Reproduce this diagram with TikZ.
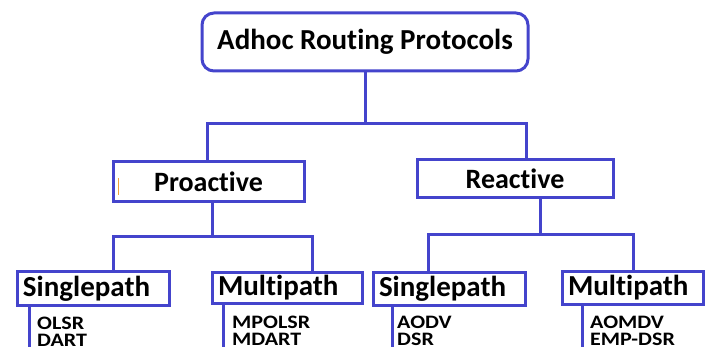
\documentclass[tikz,border=0pt]{standalone}
\usepackage{fontspec}
\setmainfont{Carlito}[Ligatures=NoCommon]
\newfontfamily\listfont{Carlito}[Ligatures=NoCommon,FakeStretch=1.16]
\definecolor{lineblue}{RGB}{68,68,204}
\definecolor{tickorange}{RGB}{240,160,60}
\begin{document}
\begin{tikzpicture}[x=1pt,y=-1pt,
  conn/.style={draw=lineblue,line width=3pt},
  topbox/.style={draw=lineblue,line width=3pt,rounded corners=12pt,minimum width=326pt,minimum height=58pt,inner sep=0pt,font=\fontsize{29}{31}\selectfont\bfseries},
  midbox/.style={draw=lineblue,line width=3pt,inner sep=0pt,font=\fontsize{28}{30}\selectfont\bfseries},
  leafbox/.style={draw=lineblue,line width=3pt,inner xsep=6pt,inner ysep=0pt,align=left,font=\fontsize{29}{31}\selectfont\bfseries},
  listtxt/.style={anchor=base west,inner sep=0pt,font=\listfont\fontsize{19}{17}\selectfont\bfseries}
]
\useasboundingbox (0,0) rectangle (709,347);
% nodes
\node[topbox] (top) at (365,42) {Adhoc Routing Protocols};
\node[midbox,minimum width=191pt,minimum height=40pt] (pro) at (208.5,182) {Proactive};
\node[midbox,minimum width=196pt,minimum height=38pt] (rea) at (515,179) {Reactive};
\node[leafbox,text width=140pt,minimum height=33pt] (s1) at (93,288.5) {Singlepath};
\node[leafbox,text width=138pt,minimum height=30pt] (m1) at (287,288) {Multipath};
\node[leafbox,text width=140pt,minimum height=32pt] (s2) at (449,289) {Singlepath};
\node[leafbox,text width=129pt,minimum height=32pt] (m2) at (632.5,288) {Multipath};
% list texts
\node[listtxt] (l1a) at (37,329) {OLSR};
\node[listtxt] (l1b) at (37,346) {DART};
\node[listtxt] (l2a) at (232,328) {MPOLSR};
\node[listtxt] (l2b) at (232,345) {MDART};
\node[listtxt] (l3a) at (397,328) {AODV};
\node[listtxt] (l3b) at (397,345) {DSR};
\node[listtxt] (l4a) at (590,328) {AOMDV};
\node[listtxt] (l4b) at (590,345) {EMP-DSR};
% bus coordinates
\coordinate (ja) at (207,124);
\coordinate (jb) at (526,124);
\coordinate (pv) at (212,237);
\coordinate (pa) at (113,237);
\coordinate (pb) at (312,237);
\coordinate (rv) at (540,235);
\coordinate (ra) at (428,235);
\coordinate (rb) at (633,235);
\coordinate (e1) at (29,350);
\coordinate (e2) at (223,350);
\coordinate (e3) at (392,350);
\coordinate (e4) at (582,350);
% connectors
\draw[conn] (top.south) -- (top.south |- ja);
\draw[conn] (pro.north -| ja) -- (ja) -- (jb) -- (rea.north -| jb);
\draw[conn] (pro.south -| pv) -- (pv);
\draw[conn] (s1.north -| pa) -- (pa) -- (pb) -- (m1.north -| pb);
\draw[conn] (rea.south -| rv) -- (rv);
\draw[conn] (s2.north -| ra) -- (ra) -- (rb) -- (m2.north -| rb);
\draw[conn] (s1.south -| e1) -- (e1);
\draw[conn] (m1.south -| e2) -- (e2);
\draw[conn] (s2.south -| e3) -- (e3);
\draw[conn] (m2.south -| e4) -- (e4);
% small orange tick inside Proactive
\draw[tickorange,line width=1pt] (118,178) -- (118,195);
\end{tikzpicture}
\end{document}
